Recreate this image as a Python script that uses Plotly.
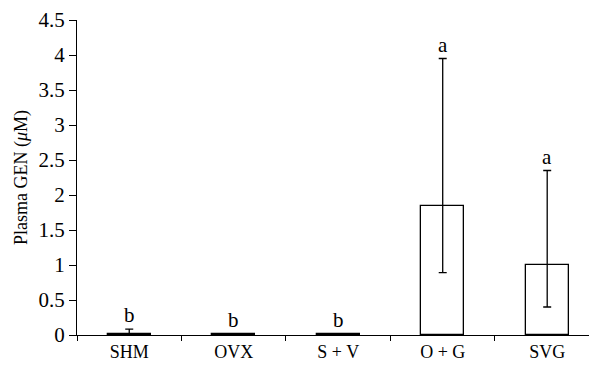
import plotly.graph_objects as go

categories = ["SHM", "OVX", "S + V", "O + G", "SVG"]
means = [0.02, 0.01, 0.01, 1.84, 1.00]
err_plus = [0.065, 0.0, 0.0, 2.11, 1.35]
err_minus = [0.02, 0.0, 0.0, 0.95, 0.60]
letters = ["b", "b", "b", "a", "a"]
yticks = [0, 0.5, 1, 1.5, 2, 2.5, 3, 3.5, 4, 4.5]
ytick_text = ["0", "0.5", "1", "1.5", "2", "2.5", "3", "3.5", "4", "4.5"]

FONT = "Liberation Serif"
xs = list(range(len(categories)))

fig = go.Figure()
fig.add_trace(go.Bar(
    x=xs, y=means, width=0.41,
    marker=dict(color="white", line=dict(color="black", width=1.3)),
    error_y=dict(type="data", symmetric=False, array=err_plus, arrayminus=err_minus,
                 color="black", thickness=1.3, width=4),
    showlegend=False,
))

for x, m, e, t in zip(xs, means, err_plus, letters):
    fig.add_annotation(x=x, y=m + e, text=t, showarrow=False, yanchor="bottom",
                       yshift=0, font=dict(family=FONT, size=21, color="black"))

fig.update_layout(
    width=589, height=366,
    margin=dict(l=77, r=0, t=20, b=31),
    paper_bgcolor="white", plot_bgcolor="white",
    font=dict(family=FONT, size=18, color="black"),
    bargap=0,
)
fig.update_xaxes(
    range=[-0.5, 4.4], tickmode="array", tickvals=xs, ticktext=categories,
    ticks="", showline=True, linecolor="black", linewidth=1.3, showgrid=False,
    zeroline=False, ticklabelstandoff=0, automargin=False,
    tickfont=dict(family=FONT, size=18),
    minor=dict(tickmode="array", tickvals=[-0.5, 0.5, 1.5, 2.5, 3.5], ticks="outside",
               ticklen=5, tickcolor="black", tickwidth=1.3, showgrid=False),
)
fig.update_yaxes(
    range=[0, 4.5], tickmode="array", tickvals=yticks, ticktext=ytick_text,
    ticks="outside", ticklen=7, tickwidth=1.3, tickcolor="black",
    showline=True, linecolor="black", linewidth=1.3, showgrid=False, zeroline=False,
    automargin=False,
    title=dict(text="Plasma GEN (<i>μ</i>M)", font=dict(family=FONT, size=18), standoff=6),
    tickfont=dict(family=FONT, size=21),
)
fig.write_html("out.html")
